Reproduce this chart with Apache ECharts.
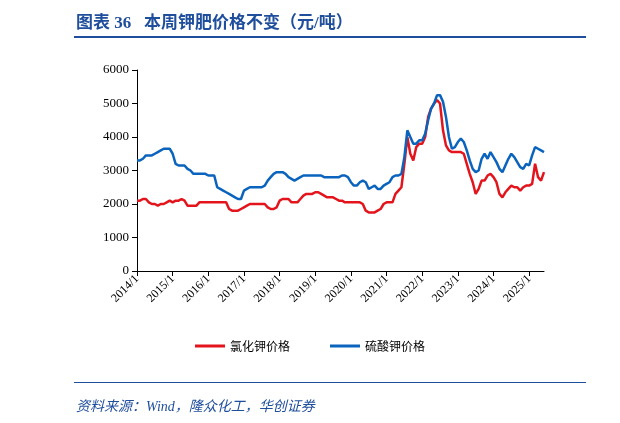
<!DOCTYPE html>
<html>
<head>
<meta charset="utf-8">
<script src="https://cdn.jsdelivr.net/npm/echarts@6/dist/echarts.min.js"></script>
<style>
body { margin: 0; background: #fff; }
#wrap { position: relative; width: 620px; height: 423px; font-family: 'Liberation Serif', 'Noto Sans CJK SC', serif; }
#title { position: absolute; left: 76px; top: 8px; font-size: 17px; font-weight: bold; color: #1f4e9c; }
#line1 { position: absolute; left: 74px; top: 36px; width: 512px; height: 2px; background: #1f4e9c; }
#line2 { position: absolute; left: 74px; top: 382px; width: 512px; height: 1px; background: #1f4e9c; }
#src { position: absolute; left: 76px; top: 395px; font-size: 14px; font-style: italic; color: #1f4e9c; }
#chart { position: absolute; left: 0; top: 0; width: 620px; height: 423px; }
</style>
</head>
<body>
<div id="wrap">
<div id="chart"></div>
<div id="title">图表 36&nbsp;&nbsp;&nbsp;本周钾肥价格不变（元/吨）</div>
<div id="line1"></div>
<div id="line2"></div>
<div id="src">资料来源：Wind，隆众化工，华创证券</div>
</div>
<script>
// 月度数据 2014/1 - 2025/6
const months = [];
for (let y = 2014; y <= 2025; y++) {
    for (let m = 1; m <= 12; m++) {
        if (y === 2025 && m > 6) break;
        months.push(y + '/' + m);
    }
}
const kcl = [
    2100,2100,2150,2150,2050,2000,2000,1950,2000,2000,2050,2100,
    2050,2100,2100,2150,2100,1950,1950,1950,1950,2050,2050,2050,
    2050,2050,2050,2050,2050,2050,2050,1850,1800,1800,1800,1850,
    1900,1950,2000,2000,2000,2000,2000,2000,1900,1850,1850,1900,
    2100,2150,2150,2150,2050,2050,2050,2150,2250,2300,2300,2300,
    2350,2350,2300,2250,2200,2200,2200,2150,2100,2100,2050,2050,
    2050,2050,2050,2050,2000,1800,1750,1750,1750,1800,1850,2000,
    2050,2050,2050,2300,2400,2500,3200,4000,3500,3300,3700,3800,
    3800,4000,4600,4850,5000,5100,5000,4200,3750,3600,3550,3550,
    3550,3550,3500,3200,2900,2650,2300,2450,2700,2700,2850,2900,
    2800,2650,2300,2200,2350,2450,2550,2500,2500,2400,2500,2550,
    2550,2600,3200,2800,2700,2950
];
const k2so4 = [
    3300,3300,3350,3450,3450,3450,3500,3550,3600,3650,3650,3650,
    3500,3200,3150,3150,3150,3050,3000,2900,2900,2900,2900,2900,
    2850,2850,2850,2500,2450,2400,2350,2300,2250,2200,2150,2150,
    2400,2450,2500,2500,2500,2500,2500,2550,2700,2800,2900,2950,
    2950,2950,2900,2800,2750,2700,2750,2800,2850,2850,2850,2850,
    2850,2850,2850,2800,2800,2800,2800,2800,2800,2850,2850,2800,
    2650,2550,2550,2650,2700,2650,2450,2500,2550,2450,2450,2550,
    2600,2650,2800,2850,2850,2900,3400,4200,4000,3800,3800,3900,
    3900,4100,4500,4850,5000,5250,5250,5050,4600,4000,3650,3700,
    3850,3950,3850,3600,3300,3050,2950,3000,3350,3500,3350,3550,
    3400,3250,3050,2950,3150,3350,3500,3400,3250,3100,3050,3200,
    3150,3450,3700,3650,3600,3550
];

const chart = echarts.init(document.getElementById('chart'));
const yearTick = (idx) => idx % 12 === 0;
chart.setOption({
    animation: false,
    textStyle: { fontFamily: "'Liberation Serif', 'Noto Sans CJK SC', serif" },
    grid: { left: 137, right: 76, top: 70, bottom: 152 },
    legend: {
        bottom: 66,
        left: 'center',
        itemWidth: 30,
        itemHeight: 3,
        itemGap: 40,
        icon: 'rect',
        textStyle: { fontSize: 12, color: '#000', fontFamily: "'Noto Sans CJK SC', serif" },
        data: ['氯化钾价格', '硫酸钾价格']
    },
    xAxis: {
        type: 'category',
        boundaryGap: false,
        data: months,
        axisLine: { lineStyle: { color: '#000' } },
        axisTick: { interval: yearTick, lineStyle: { color: '#000' } },
        axisLabel: { interval: yearTick, rotate: 45, color: '#000', fontSize: 12, margin: 6 }
    },
    yAxis: {
        type: 'value',
        min: 0,
        max: 6000,
        interval: 1000,
        axisLine: { show: true, lineStyle: { color: '#000' } },
        axisTick: { show: true, lineStyle: { color: '#000' } },
        axisLabel: { color: '#000', fontSize: 13, formatter: (v) => String(v) },
        splitLine: { show: false }
    },
    series: [
        { name: '氯化钾价格', type: 'line', data: kcl, symbol: 'none', lineStyle: { color: '#e3141c', width: 2.5 }, itemStyle: { color: '#e3141c' } },
        { name: '硫酸钾价格', type: 'line', data: k2so4, symbol: 'none', lineStyle: { color: '#0a63bd', width: 2.5 }, itemStyle: { color: '#0a63bd' } }
    ]
});
</script>
</body>
</html>
